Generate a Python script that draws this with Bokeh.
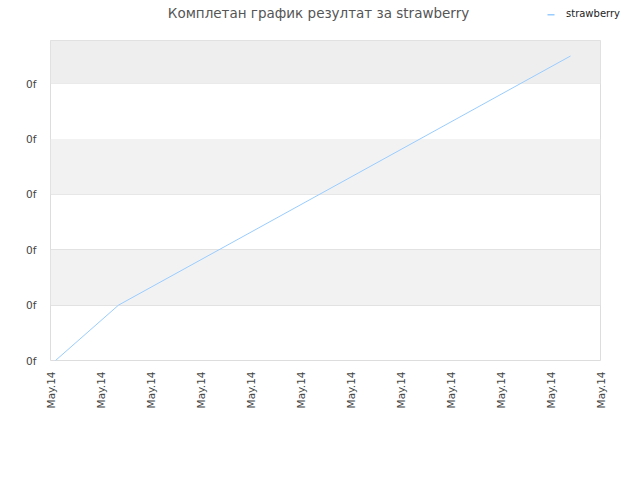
from bokeh.plotting import figure
from bokeh.layouts import column, row
from bokeh.models import (Range1d, FixedTicker, BoxAnnotation, Legend, LegendItem, Label)
from bokeh.embed import file_html
from bokeh.resources import INLINE

# data
title_text = "Комплетан график резултат за strawberry"
series_name = "strawberry"
x_values = [0.1, 1.36, 10.4]
y_values = [0.0, 1.0, 5.5]
x_ticks = list(range(12))
x_tick_labels = ["May.14"] * 12
y_ticks = [0, 1, 2, 3, 4, 5]
y_tick_labels = ["0f"] * 6

LINE_COLOR = "#99ccff"

# header with title and legend (header coordinates are pixels)
head = figure(width=632, height=40, output_backend="svg", toolbar_location=None,
              x_range=Range1d(0, 632), y_range=Range1d(0, 40),
              x_axis_location=None, y_axis_location=None,
              min_border_left=0, min_border_right=0, min_border_top=0, min_border_bottom=0)
head.grid.visible = False
head.outline_line_color = None
head.background_fill_color = "white"
head.border_fill_color = "white"
head.add_layout(Label(x=318, y=28, text=title_text, text_align="center", text_baseline="middle",
                      text_font="DejaVu Sans", text_font_size="13.5px", text_color="#555555"))
swatch = head.line([], [], line_color=LINE_COLOR, line_width=1.5)
legend = Legend(items=[LegendItem(label=series_name, renderers=[swatch])],
                location=(546, 21), orientation="horizontal",
                background_fill_alpha=0, border_line_alpha=0,
                label_text_font="DejaVu Sans", label_text_font_size="10px", label_text_color="#222222",
                glyph_width=8, glyph_height=10, label_standoff=12, padding=0, margin=0, spacing=0)
head.add_layout(legend, "center")
# visible legend swatch
head.add_layout(BoxAnnotation(left=547, right=554, bottom=25, top=26.5, fill_color=LINE_COLOR,
                              fill_alpha=1, line_alpha=0))

# main chart
p = figure(width=632, height=432, output_backend="svg", toolbar_location=None,
           x_range=Range1d(0, 11), y_range=Range1d(0, 5.78),
           min_border_left=50, min_border_right=32, min_border_top=0, min_border_bottom=112)
p.background_fill_color = "white"
p.border_fill_color = "white"
p.outline_line_color = "#dddddd"
p.outline_line_width = 1

p.add_layout(BoxAnnotation(bottom=1, top=2, fill_color="#f2f2f2", fill_alpha=1, line_alpha=0, level="underlay"))
p.add_layout(BoxAnnotation(bottom=3, top=4, fill_color="#f2f2f2", fill_alpha=1, line_alpha=0, level="underlay"))
p.add_layout(BoxAnnotation(bottom=5, fill_color="#eeeeee", fill_alpha=1, line_alpha=0, level="underlay"))

p.xgrid.grid_line_color = None
p.ygrid.grid_line_color = "#dddddd"
p.ygrid.ticker = FixedTicker(ticks=y_ticks)

p.xaxis.ticker = FixedTicker(ticks=x_ticks)
p.xaxis.major_label_overrides = {t: l for t, l in zip(x_ticks, x_tick_labels)}
p.xaxis.major_label_orientation = 1.5708
p.yaxis.ticker = FixedTicker(ticks=y_ticks)
p.yaxis.major_label_overrides = {t: l for t, l in zip(y_ticks, y_tick_labels)}
for ax in (p.xaxis, p.yaxis):
    ax.axis_line_color = None
    ax.major_tick_line_color = None
    ax.minor_tick_line_color = None
    ax.major_label_text_font = "DejaVu Sans"
    ax.major_label_text_font_size = "10.5px"
    ax.major_label_text_color = "#444444"
p.xaxis.major_label_standoff = 5
p.yaxis.major_label_standoff = 8

p.line(x_values, y_values, line_color=LINE_COLOR, line_width=1)

layout = column(row(head), p, spacing=0)
open("out.html", "w").write(file_html(layout, INLINE))
